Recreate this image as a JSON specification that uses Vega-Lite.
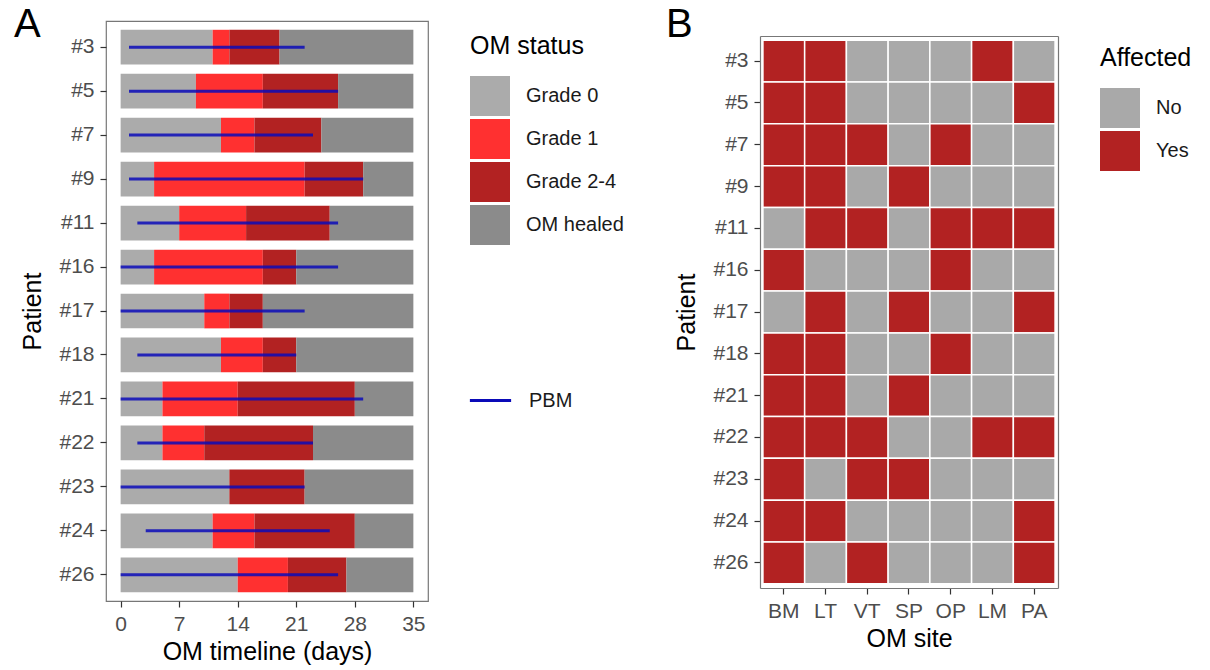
{
  "$schema": "https://vega.github.io/schema/vega-lite/v6.json",
  "padding": {"left": 13, "top": 4, "right": 0, "bottom": 0},
  "spacing": 40,
  "align": "none",
  "background": "white",
  "resolve": {"scale": {"color": "independent"}, "legend": {"color": "independent"}},
  "datasets": {
    "segments": [
      {"patient": "#3", "status": "Grade 0", "start": 0, "end": 11},
      {"patient": "#3", "status": "Grade 1", "start": 11, "end": 13},
      {"patient": "#3", "status": "Grade 2-4", "start": 13, "end": 19},
      {"patient": "#3", "status": "OM healed", "start": 19, "end": 35},
      {"patient": "#5", "status": "Grade 0", "start": 0, "end": 9},
      {"patient": "#5", "status": "Grade 1", "start": 9, "end": 17},
      {"patient": "#5", "status": "Grade 2-4", "start": 17, "end": 26},
      {"patient": "#5", "status": "OM healed", "start": 26, "end": 35},
      {"patient": "#7", "status": "Grade 0", "start": 0, "end": 12},
      {"patient": "#7", "status": "Grade 1", "start": 12, "end": 16},
      {"patient": "#7", "status": "Grade 2-4", "start": 16, "end": 24},
      {"patient": "#7", "status": "OM healed", "start": 24, "end": 35},
      {"patient": "#9", "status": "Grade 0", "start": 0, "end": 4},
      {"patient": "#9", "status": "Grade 1", "start": 4, "end": 22},
      {"patient": "#9", "status": "Grade 2-4", "start": 22, "end": 29},
      {"patient": "#9", "status": "OM healed", "start": 29, "end": 35},
      {"patient": "#11", "status": "Grade 0", "start": 0, "end": 7},
      {"patient": "#11", "status": "Grade 1", "start": 7, "end": 15},
      {"patient": "#11", "status": "Grade 2-4", "start": 15, "end": 25},
      {"patient": "#11", "status": "OM healed", "start": 25, "end": 35},
      {"patient": "#16", "status": "Grade 0", "start": 0, "end": 4},
      {"patient": "#16", "status": "Grade 1", "start": 4, "end": 17},
      {"patient": "#16", "status": "Grade 2-4", "start": 17, "end": 21},
      {"patient": "#16", "status": "OM healed", "start": 21, "end": 35},
      {"patient": "#17", "status": "Grade 0", "start": 0, "end": 10},
      {"patient": "#17", "status": "Grade 1", "start": 10, "end": 13},
      {"patient": "#17", "status": "Grade 2-4", "start": 13, "end": 17},
      {"patient": "#17", "status": "OM healed", "start": 17, "end": 35},
      {"patient": "#18", "status": "Grade 0", "start": 0, "end": 12},
      {"patient": "#18", "status": "Grade 1", "start": 12, "end": 17},
      {"patient": "#18", "status": "Grade 2-4", "start": 17, "end": 21},
      {"patient": "#18", "status": "OM healed", "start": 21, "end": 35},
      {"patient": "#21", "status": "Grade 0", "start": 0, "end": 5},
      {"patient": "#21", "status": "Grade 1", "start": 5, "end": 14},
      {"patient": "#21", "status": "Grade 2-4", "start": 14, "end": 28},
      {"patient": "#21", "status": "OM healed", "start": 28, "end": 35},
      {"patient": "#22", "status": "Grade 0", "start": 0, "end": 5},
      {"patient": "#22", "status": "Grade 1", "start": 5, "end": 10},
      {"patient": "#22", "status": "Grade 2-4", "start": 10, "end": 23},
      {"patient": "#22", "status": "OM healed", "start": 23, "end": 35},
      {"patient": "#23", "status": "Grade 0", "start": 0, "end": 13},
      {"patient": "#23", "status": "Grade 2-4", "start": 13, "end": 22},
      {"patient": "#23", "status": "OM healed", "start": 22, "end": 35},
      {"patient": "#24", "status": "Grade 0", "start": 0, "end": 11},
      {"patient": "#24", "status": "Grade 1", "start": 11, "end": 16},
      {"patient": "#24", "status": "Grade 2-4", "start": 16, "end": 28},
      {"patient": "#24", "status": "OM healed", "start": 28, "end": 35},
      {"patient": "#26", "status": "Grade 0", "start": 0, "end": 14},
      {"patient": "#26", "status": "Grade 1", "start": 14, "end": 20},
      {"patient": "#26", "status": "Grade 2-4", "start": 20, "end": 27},
      {"patient": "#26", "status": "OM healed", "start": 27, "end": 35}
    ],
    "pbm": [
      {"patient": "#3", "start": 1, "end": 22},
      {"patient": "#5", "start": 1, "end": 26},
      {"patient": "#7", "start": 1, "end": 23},
      {"patient": "#9", "start": 1, "end": 29},
      {"patient": "#11", "start": 2, "end": 26},
      {"patient": "#16", "start": 0, "end": 26},
      {"patient": "#17", "start": 0, "end": 22},
      {"patient": "#18", "start": 2, "end": 21},
      {"patient": "#21", "start": 0, "end": 29},
      {"patient": "#22", "start": 2, "end": 23},
      {"patient": "#23", "start": 0, "end": 22},
      {"patient": "#24", "start": 3, "end": 25},
      {"patient": "#26", "start": 0, "end": 26}
    ],
    "sites": [
      {"patient": "#3", "site": "BM", "affected": "Yes"}, {"patient": "#3", "site": "LT", "affected": "Yes"}, {"patient": "#3", "site": "VT", "affected": "No"}, {"patient": "#3", "site": "SP", "affected": "No"}, {"patient": "#3", "site": "OP", "affected": "No"}, {"patient": "#3", "site": "LM", "affected": "Yes"}, {"patient": "#3", "site": "PA", "affected": "No"},
      {"patient": "#5", "site": "BM", "affected": "Yes"}, {"patient": "#5", "site": "LT", "affected": "Yes"}, {"patient": "#5", "site": "VT", "affected": "No"}, {"patient": "#5", "site": "SP", "affected": "No"}, {"patient": "#5", "site": "OP", "affected": "No"}, {"patient": "#5", "site": "LM", "affected": "No"}, {"patient": "#5", "site": "PA", "affected": "Yes"},
      {"patient": "#7", "site": "BM", "affected": "Yes"}, {"patient": "#7", "site": "LT", "affected": "Yes"}, {"patient": "#7", "site": "VT", "affected": "Yes"}, {"patient": "#7", "site": "SP", "affected": "No"}, {"patient": "#7", "site": "OP", "affected": "Yes"}, {"patient": "#7", "site": "LM", "affected": "No"}, {"patient": "#7", "site": "PA", "affected": "No"},
      {"patient": "#9", "site": "BM", "affected": "Yes"}, {"patient": "#9", "site": "LT", "affected": "Yes"}, {"patient": "#9", "site": "VT", "affected": "No"}, {"patient": "#9", "site": "SP", "affected": "Yes"}, {"patient": "#9", "site": "OP", "affected": "No"}, {"patient": "#9", "site": "LM", "affected": "No"}, {"patient": "#9", "site": "PA", "affected": "No"},
      {"patient": "#11", "site": "BM", "affected": "No"}, {"patient": "#11", "site": "LT", "affected": "Yes"}, {"patient": "#11", "site": "VT", "affected": "Yes"}, {"patient": "#11", "site": "SP", "affected": "No"}, {"patient": "#11", "site": "OP", "affected": "Yes"}, {"patient": "#11", "site": "LM", "affected": "Yes"}, {"patient": "#11", "site": "PA", "affected": "Yes"},
      {"patient": "#16", "site": "BM", "affected": "Yes"}, {"patient": "#16", "site": "LT", "affected": "No"}, {"patient": "#16", "site": "VT", "affected": "No"}, {"patient": "#16", "site": "SP", "affected": "No"}, {"patient": "#16", "site": "OP", "affected": "Yes"}, {"patient": "#16", "site": "LM", "affected": "No"}, {"patient": "#16", "site": "PA", "affected": "No"},
      {"patient": "#17", "site": "BM", "affected": "No"}, {"patient": "#17", "site": "LT", "affected": "Yes"}, {"patient": "#17", "site": "VT", "affected": "No"}, {"patient": "#17", "site": "SP", "affected": "Yes"}, {"patient": "#17", "site": "OP", "affected": "No"}, {"patient": "#17", "site": "LM", "affected": "No"}, {"patient": "#17", "site": "PA", "affected": "Yes"},
      {"patient": "#18", "site": "BM", "affected": "Yes"}, {"patient": "#18", "site": "LT", "affected": "Yes"}, {"patient": "#18", "site": "VT", "affected": "No"}, {"patient": "#18", "site": "SP", "affected": "No"}, {"patient": "#18", "site": "OP", "affected": "Yes"}, {"patient": "#18", "site": "LM", "affected": "No"}, {"patient": "#18", "site": "PA", "affected": "No"},
      {"patient": "#21", "site": "BM", "affected": "Yes"}, {"patient": "#21", "site": "LT", "affected": "Yes"}, {"patient": "#21", "site": "VT", "affected": "No"}, {"patient": "#21", "site": "SP", "affected": "Yes"}, {"patient": "#21", "site": "OP", "affected": "No"}, {"patient": "#21", "site": "LM", "affected": "No"}, {"patient": "#21", "site": "PA", "affected": "No"},
      {"patient": "#22", "site": "BM", "affected": "Yes"}, {"patient": "#22", "site": "LT", "affected": "Yes"}, {"patient": "#22", "site": "VT", "affected": "Yes"}, {"patient": "#22", "site": "SP", "affected": "No"}, {"patient": "#22", "site": "OP", "affected": "No"}, {"patient": "#22", "site": "LM", "affected": "Yes"}, {"patient": "#22", "site": "PA", "affected": "Yes"},
      {"patient": "#23", "site": "BM", "affected": "Yes"}, {"patient": "#23", "site": "LT", "affected": "No"}, {"patient": "#23", "site": "VT", "affected": "Yes"}, {"patient": "#23", "site": "SP", "affected": "Yes"}, {"patient": "#23", "site": "OP", "affected": "No"}, {"patient": "#23", "site": "LM", "affected": "No"}, {"patient": "#23", "site": "PA", "affected": "No"},
      {"patient": "#24", "site": "BM", "affected": "Yes"}, {"patient": "#24", "site": "LT", "affected": "Yes"}, {"patient": "#24", "site": "VT", "affected": "No"}, {"patient": "#24", "site": "SP", "affected": "No"}, {"patient": "#24", "site": "OP", "affected": "No"}, {"patient": "#24", "site": "LM", "affected": "No"}, {"patient": "#24", "site": "PA", "affected": "Yes"},
      {"patient": "#26", "site": "BM", "affected": "Yes"}, {"patient": "#26", "site": "LT", "affected": "No"}, {"patient": "#26", "site": "VT", "affected": "Yes"}, {"patient": "#26", "site": "SP", "affected": "No"}, {"patient": "#26", "site": "OP", "affected": "No"}, {"patient": "#26", "site": "LM", "affected": "No"}, {"patient": "#26", "site": "PA", "affected": "Yes"}
    ]
  },
  "hconcat": [
    {
      "width": 322,
      "height": 580,
      "title": {"text": "A", "anchor": "start", "frame": "bounds", "fontSize": 40, "fontWeight": "normal", "color": "black", "offset": -24, "dx": -7},
      "layer": [
        {
          "data": {"name": "segments"},
          "mark": {"type": "bar"},
          "encoding": {
            "y": {
              "field": "patient", "type": "nominal", "title": "Patient",
              "sort": ["#3", "#5", "#7", "#9", "#11", "#16", "#17", "#18", "#21", "#22", "#23", "#24", "#26"],
              "scale": {"paddingInner": 0.21, "paddingOuter": 0.2}
            },
            "x": {
              "field": "start", "type": "quantitative", "title": "OM timeline (days)",
              "scale": {"domain": [-1.75, 36.75], "nice": false, "zero": false},
              "axis": {"values": [0, 7, 14, 21, 28, 35]}
            },
            "x2": {"field": "end"},
            "color": {
              "field": "status", "type": "nominal",
              "scale": {"domain": ["Grade 0", "Grade 1", "Grade 2-4", "OM healed"], "range": ["#ABABAB", "#FF3030", "#B22222", "#8B8B8B"]},
              "legend": {"title": "OM status", "orient": "none", "legendX": 364, "legendY": 13}
            }
          }
        },
        {
          "data": {"name": "pbm"},
          "mark": {"type": "rule", "strokeWidth": 3, "opacity": 0.85},
          "encoding": {
            "y": {"field": "patient", "type": "nominal", "sort": ["#3", "#5", "#7", "#9", "#11", "#16", "#17", "#18", "#21", "#22", "#23", "#24", "#26"]},
            "x": {"field": "start", "type": "quantitative"},
            "x2": {"field": "end"},
            "stroke": {
              "datum": "PBM", "type": "nominal",
              "scale": {"range": ["#0A0AB8"]},
              "legend": {"title": null, "orient": "none", "legendX": 362, "legendY": 357, "symbolType": "stroke", "symbolSize": 1700, "symbolStrokeWidth": 3}
            }
          }
        }
      ]
    },
    {
      "width": 298,
      "height": 567,
      "view": {"stroke": null},
      "title": {"text": "B", "anchor": "start", "frame": "bounds", "fontSize": 40, "fontWeight": "normal", "color": "black", "offset": -24, "dx": -9},
      "data": {"name": "sites"},
      "layer": [
        {
          "mark": {"type": "rect", "stroke": "white", "strokeWidth": 1.5},
          "encoding": {
            "x": {
              "field": "site", "type": "nominal", "title": "OM site",
              "sort": ["BM", "LT", "VT", "SP", "OP", "LM", "PA"],
              "scale": {"paddingInner": 0, "paddingOuter": 0.07},
              "axis": {"labelAngle": 0, "domain": true, "domainColor": "#777777", "domainWidth": 1.2}
            },
            "y": {
              "field": "patient", "type": "nominal", "title": "Patient",
              "sort": ["#3", "#5", "#7", "#9", "#11", "#16", "#17", "#18", "#21", "#22", "#23", "#24", "#26"],
              "scale": {"paddingInner": 0, "paddingOuter": 0.1, "range": [15, 567]},
              "axis": {"domain": true, "domainColor": "#777777", "domainWidth": 1.2}
            },
            "color": {
              "field": "affected", "type": "nominal",
              "scale": {"domain": ["No", "Yes"], "range": ["#A9A9A9", "#B22222"]},
              "legend": {"title": "Affected", "orient": "none", "legendX": 340, "legendY": 25}
            }
          }
        },
        {
          "mark": {"type": "rect", "opacity": 0},
          "encoding": {
            "x": {
              "field": "site", "type": "nominal",
              "sort": ["BM", "LT", "VT", "SP", "OP", "LM", "PA"],
              "axis": {"orient": "top", "offset": -15, "title": null, "labels": false, "ticks": false, "domain": true, "domainColor": "#777777", "domainWidth": 1.2}
            },
            "y": {
              "field": "patient", "type": "nominal",
              "sort": ["#3", "#5", "#7", "#9", "#11", "#16", "#17", "#18", "#21", "#22", "#23", "#24", "#26"],
              "axis": {"orient": "right", "title": null, "labels": false, "ticks": false, "domain": true, "domainColor": "#777777", "domainWidth": 1.2}
            }
          }
        }
      ],
      "resolve": {"axis": {"x": "independent", "y": "independent"}}
    }
  ],
  "config": {
    "font": "Liberation Sans",
    "view": {"stroke": "#777777", "strokeWidth": 1.2},
    "axis": {
      "grid": false, "domain": false,
      "labelFontSize": 21, "labelColor": "#4D4D4D", "labelPadding": 6,
      "titleFontSize": 25, "titleFontWeight": "normal", "titleColor": "black",
      "tickColor": "#333333", "tickSize": 6, "tickWidth": 1.2
    },
    "axisY": {"titlePadding": 13},
    "axisX": {"titlePadding": 5},
    "legend": {
      "padding": 0,
      "titleFontSize": 25, "titleFontWeight": "normal", "titleColor": "black", "titlePadding": 17,
      "labelFontSize": 20, "labelColor": "#1A1A1A", "labelOffset": 16,
      "symbolType": "square", "symbolSize": 1600, "symbolStrokeWidth": 0, "symbolOpacity": 1,
      "rowPadding": 3
    }
  }
}
